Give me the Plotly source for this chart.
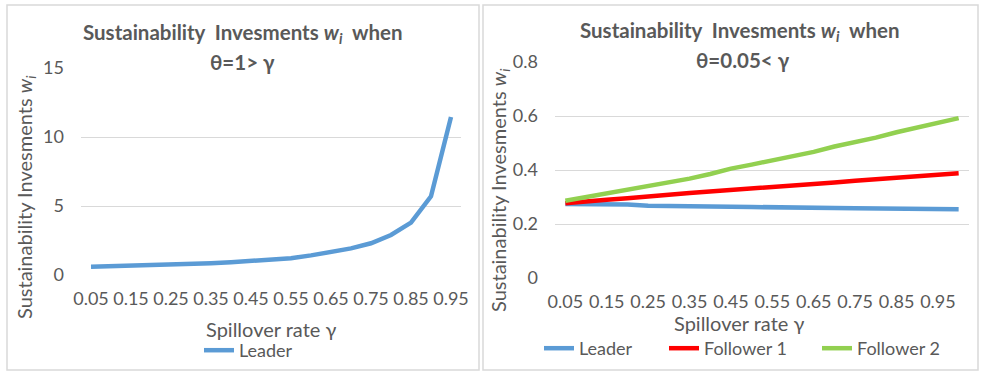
import plotly.graph_objects as go

# Spillover rate categories
gamma_left = ["%.2f" % (0.05 * k) for k in range(1, 20)]    # 0.05 .. 0.95
gamma_right = ["%.2f" % (0.05 * k) for k in range(1, 21)]   # 0.05 .. 1.00

# theta = 1 > gamma : leader investment
leader_left = [0.60, 0.63, 0.66, 0.70, 0.74, 0.79, 0.85, 0.92, 1.00, 1.10,
               1.22, 1.42, 1.68, 1.93, 2.30, 2.90, 3.80, 5.70, 11.45]

# theta = 0.05 < gamma
leader_right = [0.274, 0.274, 0.274, 0.272, 0.268, 0.266, 0.266, 0.266, 0.264, 0.263,
                0.263, 0.263, 0.262, 0.259, 0.258, 0.258, 0.258, 0.256, 0.255, 0.255]
follower1 = [0.277, 0.285, 0.290, 0.295, 0.300, 0.308, 0.315, 0.320, 0.327, 0.332,
             0.338, 0.343, 0.348, 0.354, 0.360, 0.365, 0.371, 0.376, 0.382, 0.388]
follower2 = [0.286, 0.300, 0.310, 0.325, 0.340, 0.355, 0.368, 0.385, 0.405, 0.420,
             0.435, 0.450, 0.467, 0.487, 0.503, 0.520, 0.540, 0.558, 0.575, 0.592]

left_ticks = ["0.05", "0.15", "0.25", "0.35", "0.45", "0.55", "0.65", "0.75", "0.85", "0.95"]

W, H = 981, 372
FONT = "Lato"
TXT = "#595959"
GRID = "#d9d9d9"
BLUE, RED, GREEN = "#5B9BD5", "#FF0000", "#92D050"


def px(x):
    return x / W


def py(y):
    return 1 - y / H


fig = go.Figure()

fig.add_trace(go.Scatter(x=gamma_left, y=leader_left, mode="lines", name="Leader",
                         line=dict(color=BLUE, width=4.5), xaxis="x", yaxis="y",
                         legend="legend", showlegend=True))
fig.add_trace(go.Scatter(x=gamma_right, y=leader_right, mode="lines", name="Leader",
                         line=dict(color=BLUE, width=4.5), xaxis="x2", yaxis="y2",
                         legend="legend2", showlegend=True))
fig.add_trace(go.Scatter(x=gamma_right, y=follower1, mode="lines", name="Follower 1",
                         line=dict(color=RED, width=4.5), xaxis="x2", yaxis="y2",
                         legend="legend3", showlegend=True))
fig.add_trace(go.Scatter(x=gamma_right, y=follower2, mode="lines", name="Follower 2",
                         line=dict(color=GREEN, width=4.5), xaxis="x2", yaxis="y2",
                         legend="legend4", showlegend=True))

tick_font = dict(family=FONT, size=18, color=TXT)
common_x = dict(type="category", showgrid=False, zeroline=False, showline=False,
                ticks="", tickfont=tick_font, tickangle=0, ticklabelstandoff=11,
                automargin=False)
common_y = dict(showgrid=True, gridcolor=GRID, gridwidth=1.3, zeroline=False,
                showline=False, ticks="", tickfont=tick_font, ticklabelstandoff=16,
                automargin=False)

# legends anchored at their bottom edge so they never push the margins
legend_common = dict(orientation="h", bgcolor="rgba(0,0,0,0)",
                     font=dict(family=FONT, size=18, color=TXT),
                     xanchor="left", yanchor="bottom", tracegroupgap=0,
                     itemwidth=30)
LEG_BOTTOM = 367

fig.update_layout(
    width=W, height=H,
    margin=dict(l=0, r=0, t=0, b=0, autoexpand=False),
    showlegend=True,
    paper_bgcolor="white", plot_bgcolor="white",
    font=dict(family=FONT, color=TXT),
    xaxis=dict(common_x, domain=[px(81), px(461)], range=[-0.5, 18.5],
               tickvals=left_ticks, ticktext=left_ticks, anchor="y"),
    yaxis=dict(common_y, domain=[py(275), py(68)], range=[0, 15], dtick=5,
               anchor="x"),
    xaxis2=dict(common_x, domain=[px(555), px(969)], range=[-0.5, 19.5],
                tickvals=left_ticks, ticktext=left_ticks, anchor="y2"),
    yaxis2=dict(common_y, domain=[py(278), py(62)], range=[0, 0.8], dtick=0.2,
                tickformat=".1~f", anchor="x2"),
    legend=dict(legend_common, x=px(199), y=py(LEG_BOTTOM + 2)),
    legend2=dict(legend_common, x=px(539), y=py(LEG_BOTTOM)),
    legend3=dict(legend_common, x=px(664), y=py(LEG_BOTTOM)),
    legend4=dict(legend_common, x=px(817), y=py(LEG_BOTTOM)),
    shapes=[
        dict(type="rect", xref="paper", yref="paper", x0=px(7), x1=px(479),
             y0=py(370), y1=py(5), line=dict(color=GRID, width=1.5)),
        dict(type="rect", xref="paper", yref="paper", x0=px(483), x1=px(978),
             y0=py(370), y1=py(5), line=dict(color=GRID, width=1.5)),
    ],
)

title_font = dict(family=FONT, size=20.5, color=TXT)
axis_font = dict(family=FONT, size=20, color=TXT)
annotations = [
    dict(text="<b>Sustainability  Invesments <i>w<sub>i</sub></i>  when</b>",
         x=px(242), y=py(33), font=title_font),
    dict(text="<b>θ=1> γ</b>", x=px(242), y=py(62), font=title_font),
    dict(text="<b>Sustainability  Invesments <i>w<sub>i</sub></i>  when</b>",
         x=px(739), y=py(31), font=title_font),
    dict(text="<b>θ=0.05< γ</b>", x=px(743), y=py(60), font=title_font),
    dict(text="Spillover rate γ", x=px(271), y=py(329), font=axis_font),
    dict(text="Spillover rate γ", x=px(739), y=py(323), font=axis_font),
    dict(text="Sustainability Invesments <i>w<sub>i</sub></i>", x=px(25), y=py(197),
         textangle=-90, font=axis_font),
    dict(text="Sustainability Invesments <i>w<sub>i</sub></i>", x=px(499), y=py(190),
         textangle=-90, font=axis_font),
]
for a in annotations:
    a.update(xref="paper", yref="paper", showarrow=False,
             xanchor="center", yanchor="middle")
fig.update_layout(annotations=annotations)

fig.write_html("out.html")
